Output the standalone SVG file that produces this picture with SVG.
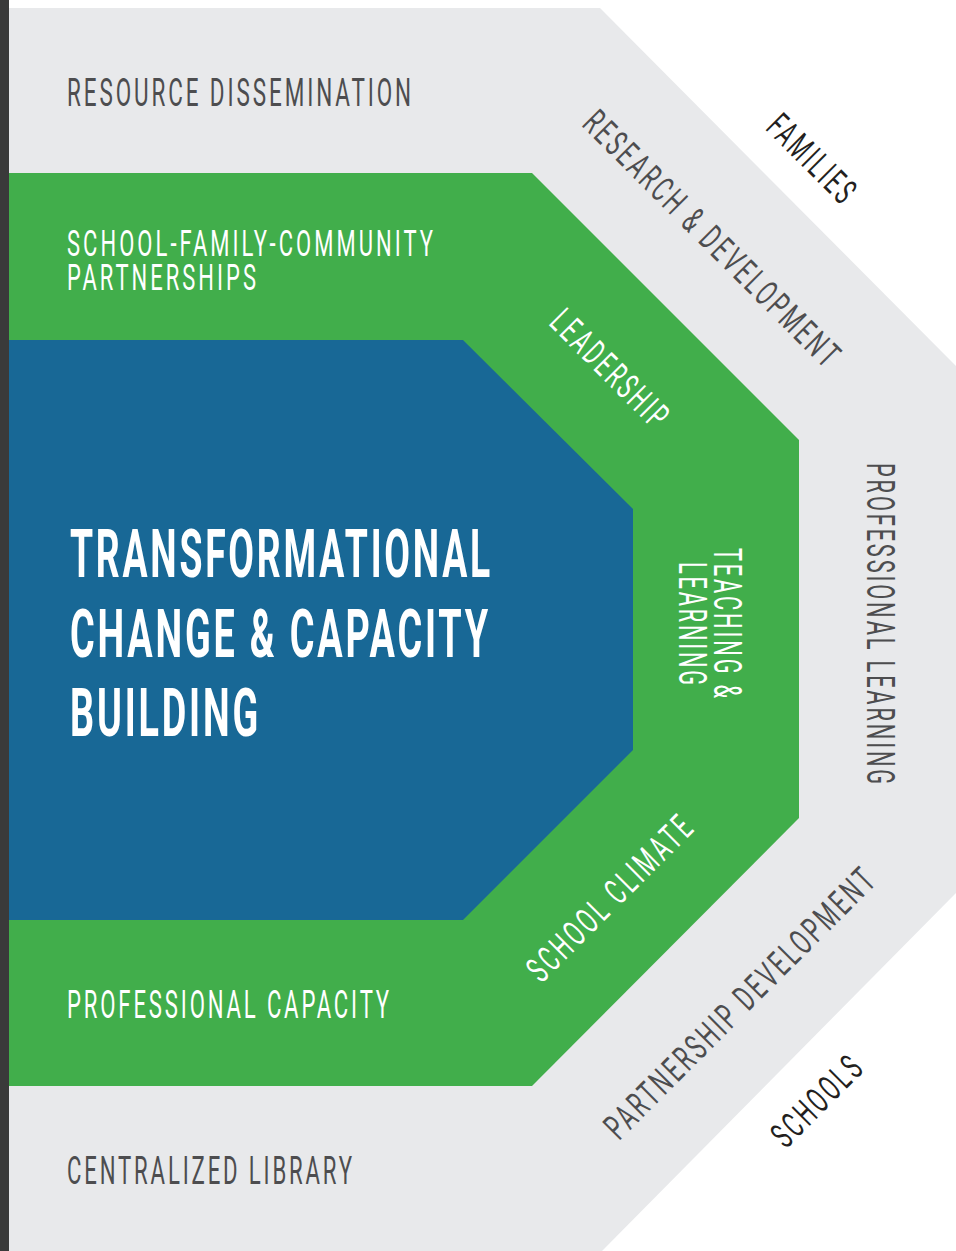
<svg xmlns="http://www.w3.org/2000/svg" width="956" height="1251" viewBox="0 0 956 1251">
  <style>
    .t { font-family: Roboto, "Liberation Sans", sans-serif; font-weight: 400; letter-spacing: 5px; }
    .grey { fill: #4d4d4f; }
    .white { fill: #ffffff; }
    .black { fill: #231f20; }
    .s28 { font-size: 39px; }
    .s26 { font-size: 36px; }
    .title { font-family: Roboto, "Liberation Sans", sans-serif; font-weight: 700; font-size: 67px; fill: #ffffff; letter-spacing: 5px; }
  </style>
  <rect x="0" y="0" width="956" height="1251" fill="#ffffff"/>
  <rect id="edge-strip" x="0" y="0" width="9" height="1251" fill="#3a3a3a"/>

  <g id="outer-ring">
    <polygon points="9,8 600,8 956,366 956,893 602,1251 9,1251" fill="#e8e9eb"/>
    <text class="t grey s28" x="67" y="106" textLength="347" lengthAdjust="spacingAndGlyphs">RESOURCE DISSEMINATION</text>
    <text class="t grey s28" x="67" y="1184" textLength="288" lengthAdjust="spacingAndGlyphs">CENTRALIZED LIBRARY</text>
    <text class="t grey s26" transform="translate(713,239) rotate(45)" x="0" y="13" text-anchor="middle" textLength="348" lengthAdjust="spacingAndGlyphs">RESEARCH &amp; DEVELOPMENT</text>
    <text class="t grey s28" transform="translate(881,625) rotate(90)" x="0" y="14" text-anchor="middle" textLength="324" lengthAdjust="spacingAndGlyphs">PROFESSIONAL LEARNING</text>
    <text class="t grey s26" transform="translate(740,1002) rotate(-45)" x="0" y="13" text-anchor="middle" textLength="368" lengthAdjust="spacingAndGlyphs">PARTNERSHIP DEVELOPMENT</text>
  </g>

  <g id="outside-labels">
    <text class="t black s26" transform="translate(813,159) rotate(45)" x="0" y="13" text-anchor="middle" textLength="111" lengthAdjust="spacingAndGlyphs">FAMILIES</text>
    <text class="t black s26" transform="translate(817,1100) rotate(-45)" x="0" y="13" text-anchor="middle" textLength="114" lengthAdjust="spacingAndGlyphs">SCHOOLS</text>
  </g>

  <g id="middle-ring">
    <polygon points="9,173 532,173 799,440 799,818 532,1086 9,1086" fill="#41ae4b"/>
    <text class="t white s26" x="67" y="256" textLength="369" lengthAdjust="spacingAndGlyphs">SCHOOL-FAMILY-COMMUNITY</text>
    <text class="t white s26" x="67" y="290" textLength="192" lengthAdjust="spacingAndGlyphs">PARTNERSHIPS</text>
    <text class="t white s28" x="67" y="1018" textLength="325" lengthAdjust="spacingAndGlyphs">PROFESSIONAL CAPACITY</text>
    <text class="t white s26" transform="translate(611,369) rotate(45)" x="0" y="13" text-anchor="middle" textLength="153" lengthAdjust="spacingAndGlyphs">LEADERSHIP</text>
    <text class="t white s28" transform="translate(727.5,624.5) rotate(90)" x="0" y="14" text-anchor="middle" textLength="153" lengthAdjust="spacingAndGlyphs">TEACHING &amp;</text>
    <text class="t white s28" transform="translate(692.5,625) rotate(90)" x="0" y="14" text-anchor="middle" textLength="126" lengthAdjust="spacingAndGlyphs">LEARNING</text>
    <text class="t white s26" transform="translate(610,897) rotate(-45)" x="0" y="13" text-anchor="middle" textLength="220" lengthAdjust="spacingAndGlyphs">SCHOOL CLIMATE</text>
  </g>

  <g id="core">
    <polygon points="9,340 463,340 633,509 633,750 463,920 9,920" fill="#186896"/>
    <text class="title" x="70" y="577" textLength="423" lengthAdjust="spacingAndGlyphs">TRANSFORMATIONAL</text>
    <text class="title" x="70" y="657" textLength="421" lengthAdjust="spacingAndGlyphs">CHANGE &amp; CAPACITY</text>
    <text class="title" x="70" y="736" textLength="191" lengthAdjust="spacingAndGlyphs">BUILDING</text>
  </g>

  <g id="connectors"></g>
</svg>
